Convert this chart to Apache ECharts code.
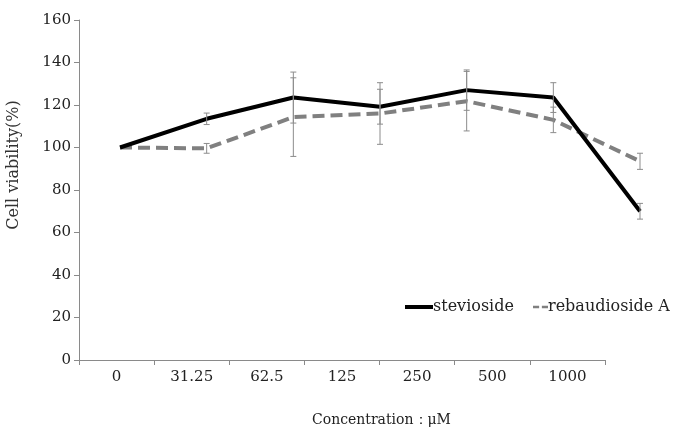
<!DOCTYPE html>
<html><head><meta charset="utf-8">
<script src="https://cdn.jsdelivr.net/npm/echarts@6/dist/echarts.min.js"></script>
<style>html,body{margin:0;padding:0;background:#fff}#c{width:686px;height:429px}</style>
</head><body><div id="c"></div>
<script>
const categories = ['0','31.25','62.5','125','250','500','1000'];
const stevioside = [100, 113.5, 123.5, 119.2, 127, 123.5, 70];
const steviosideSD = [0, 2.7, 12, 8.2, 9.5, 7, 3.7];
const rebaudiosideA = [100, 99.6, 114.3, 116, 121.8, 113, 93.5];
const rebaudiosideASD = [0, 2.3, 18.5, 14.5, 14, 6, 3.8];
const yTicks = [0, 20, 40, 60, 80, 100, 120, 140, 160];

const serif = 'DejaVu Serif';
function errData(m, sd) { return m.map((v, i) => [i, v - sd[i], v + sd[i]]); }
function errRender(params, api) {
  if (api.value(2) - api.value(1) <= 0) return;
  const lo = api.coord([api.value(0), api.value(1)]);
  const hi = api.coord([api.value(0), api.value(2)]);
  const w = 3;
  const st = { stroke: '#8c8c8c', lineWidth: 1 };
  return { type: 'group', children: [
    { type: 'line', shape: { x1: lo[0], y1: lo[1], x2: hi[0], y2: hi[1] }, style: st },
    { type: 'line', shape: { x1: lo[0]-w, y1: lo[1], x2: lo[0]+w, y2: lo[1] }, style: st },
    { type: 'line', shape: { x1: hi[0]-w, y1: hi[1], x2: hi[0]+w, y2: hi[1] }, style: st }
  ]};
}

const chart = echarts.init(document.getElementById('c'), null, { renderer: 'canvas' });
chart.setOption({
  animation: false,
  backgroundColor: '#fff',
  grid: [
    { left: 79, right: 81, top: 20, bottom: 69 },
    { left: 120, right: 46, top: 20, bottom: 69 }
  ],
  xAxis: [
    { type: 'category', gridIndex: 0, data: categories, boundaryGap: true,
      axisLine: { lineStyle: { color: '#8a8a8a', width: 1 } },
      axisTick: { show: true, length: 5, lineStyle: { color: '#8a8a8a' } },
      axisLabel: { fontFamily: serif, fontSize: 15, color: '#222', margin: 10 } },
    { type: 'category', gridIndex: 1, data: categories, boundaryGap: false, show: false }
  ],
  yAxis: [
    { type: 'value', gridIndex: 0, min: 0, max: 160, interval: 20,
      axisLine: { show: true, lineStyle: { color: '#8a8a8a', width: 1 } },
      axisTick: { show: true, length: 5, lineStyle: { color: '#8a8a8a' } },
      splitLine: { show: false },
      axisLabel: { fontFamily: serif, fontSize: 15, color: '#222', margin: 8,
        formatter: v => yTicks.includes(v) ? String(v) : '' } },
    { type: 'value', gridIndex: 1, min: 0, max: 160, show: false, splitLine: { show: false } }
  ],
  legend: [
    { data: [{ name: 'stevioside', icon: 'rect' }], left: 400, top: 294, itemWidth: 28, itemHeight: 4,
      itemStyle: { color: '#000' },
      textStyle: { fontFamily: serif, fontSize: 16, color: '#222', padding: [0,0,0,-5] } },
    { data: [{ name: 'rebaudioside A', icon: 'path://M0,0H9V4H0Z M13,0H22V4H13Z' }], left: 528, top: 294, itemWidth: 15, itemHeight: 3,
      itemStyle: { color: '#808080' },
      textStyle: { fontFamily: serif, fontSize: 16, color: '#222', padding: [0,0,0,-5] } }
  ],
  graphic: [
    { type: 'text', x: 14, y: 165, rotation: Math.PI / 2,
      style: { text: 'Cell viability(%)', font: '16px "DejaVu Serif"', fill: '#333', align: 'center', verticalAlign: 'middle' } },
    { type: 'text', left: 312, top: 413,
      style: { text: 'Concentration：μM', font: '14px "DejaVu Serif"', fill: '#222' } }
  ],
  series: [
    { name: 'stevioside', type: 'line', xAxisIndex: 1, yAxisIndex: 1, data: stevioside,
      symbol: 'none', lineStyle: { color: '#000', width: 4 }, itemStyle: { color: '#000' }, z: 3 },
    { name: 'rebaudioside A', type: 'line', xAxisIndex: 1, yAxisIndex: 1, data: rebaudiosideA,
      symbol: 'none', lineStyle: { color: '#808080', width: 4, type: [12, 6] }, itemStyle: { color: '#808080' }, z: 2 },
    { type: 'custom', xAxisIndex: 1, yAxisIndex: 1, data: errData(stevioside, steviosideSD), renderItem: errRender, z: 5 },
    { type: 'custom', xAxisIndex: 1, yAxisIndex: 1, data: errData(rebaudiosideA, rebaudiosideASD), renderItem: errRender, z: 5 }
  ]
});
</script></body></html>
